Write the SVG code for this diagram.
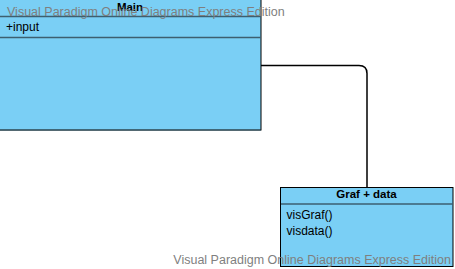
<svg xmlns="http://www.w3.org/2000/svg" width="455" height="269" viewBox="0 0 455 269">
  <style>
    .box { fill: #7acff5; stroke: #000; stroke-width: 1; }
    .sep { stroke: #3d5f70; stroke-width: 1.5; }
    .title { font-family: "Liberation Sans", Arial, sans-serif; font-size: 11.5px; font-weight: bold; fill: #000; text-anchor: middle; }
    .member { font-family: "Liberation Sans", Arial, sans-serif; font-size: 12px; fill: #000; }
    .mark { font-family: "Liberation Sans", Arial, sans-serif; font-size: 12.5px; fill: #7f7f7f; }
    .edge { fill: none; stroke: #000; stroke-width: 1.5; }
  </style>

  <!-- association between the two classes -->
  <g id="connectors">
    <path class="edge" d="M261,65.5 H359 Q367,65.5 367,73.5 V187"/>
  </g>

  <g id="main">
    <rect class="box" x="-1" y="-1" width="262" height="131"/>
    <line class="sep" x1="0" y1="16.5" x2="261" y2="16.5"/>
    <line class="sep" x1="0" y1="37.5" x2="261" y2="37.5"/>
    <line x1="0" y1="130.3" x2="261" y2="130.3" stroke="#4a6470" stroke-width="1"/>
    <text class="title" x="130" y="10.5">Main</text>
    <text class="member" x="6" y="31">+input</text>
  </g>

  <g id="graf-data">
    <rect class="box" x="280.5" y="187.5" width="172.5" height="79"/>
    <line class="sep" x1="281" y1="204" x2="453" y2="204"/>
    <text class="title" x="366.5" y="198">Graf + data</text>
    <text class="member" x="286.5" y="218.5">visGraf()</text>
    <text class="member" x="286.5" y="234.5">visdata()</text>
  </g>

  <!-- edition watermarks -->
  <text class="mark" x="7" y="16">Visual Paradigm Online Diagrams Express Edition</text>
  <text class="mark" x="451" y="264" text-anchor="end">Visual Paradigm Online Diagrams Express Edition</text>
</svg>
